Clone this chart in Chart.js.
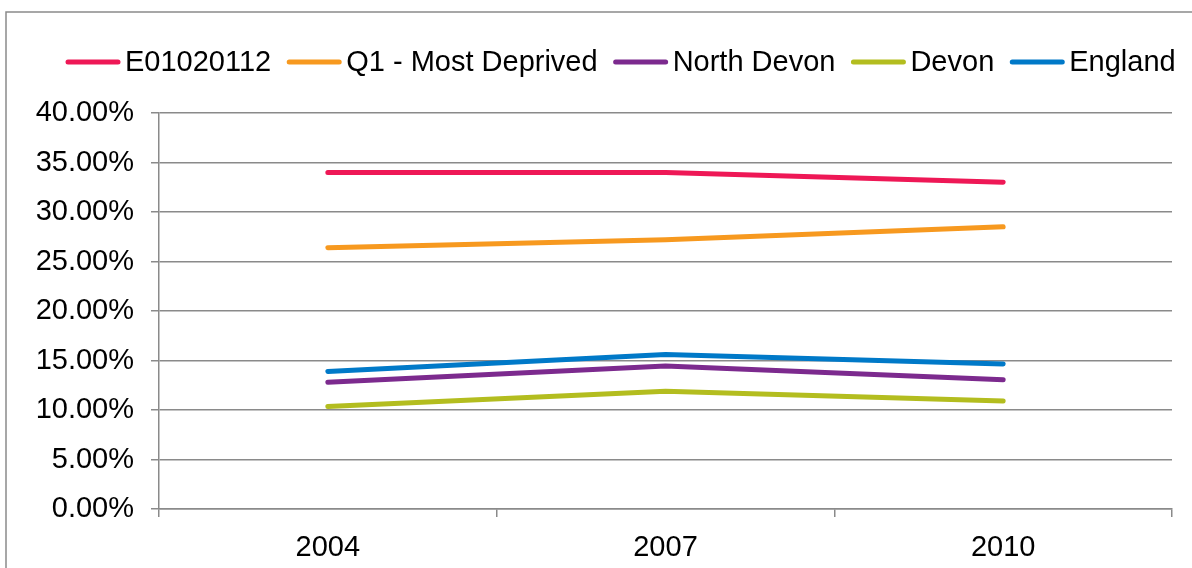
<!DOCTYPE html>
<html>
<head>
<meta charset="utf-8">
<script src="https://cdn.jsdelivr.net/npm/chart.js@4/dist/chart.umd.min.js"></script>
<style>
  html, body { margin: 0; padding: 0; background: #ffffff; }
  #wrap { position: relative; width: 1192px; height: 568px; overflow: hidden; }
  canvas { display: block; }
</style>
</head>
<body>
<div id="wrap"><canvas id="c" width="1192" height="568"></canvas></div>
<script>
// ---- Data ----
const years = ['2004', '2007', '2010'];
const seriesNames = ['E01020112', 'Q1 - Most Deprived', 'North Devon', 'Devon', 'England'];
const e01020112 = [34.0, 34.0, 33.0];
const q1MostDeprived = [26.4, 27.2, 28.5];
const northDevon = [12.8, 14.45, 13.05];
const devon = [10.35, 11.9, 10.9];
const england = [13.9, 15.6, 14.65];
const yTicks = [0, 5, 10, 15, 20, 25, 30, 35, 40];

const colors = ['#EE1856', '#F7991F', '#7C2A8E', '#B3BD1F', '#0079C8'];
const FONT = '"Liberation Sans", Arial, sans-serif';
const FS = 29;

const seriesValues = [e01020112, q1MostDeprived, northDevon, devon, england];

const datasets = seriesNames.map((name, i) => ({
  label: name,
  data: seriesValues[i],
  borderColor: colors[i],
  backgroundColor: colors[i],
  borderWidth: 5,
  pointRadius: 0,
  pointHoverRadius: 0,
  tension: 0,
  fill: false,
  borderCapStyle: 'round',
  borderJoinStyle: 'round'
}));

// frame + legend drawn on the chart canvas
const framePlugin = {
  id: 'frame',
  beforeDraw(chart) {
    const ctx = chart.ctx;
    ctx.save();
    ctx.fillStyle = '#ffffff';
    ctx.fillRect(0, 0, chart.width, chart.height);
    ctx.strokeStyle = '#8a8a8a';
    ctx.lineWidth = 1.5;
    ctx.strokeRect(6, 12, 1400, 800);
    ctx.restore();
  },
  afterDraw(chart) {
    const ctx = chart.ctx;
    ctx.save();
    ctx.font = FS + 'px ' + FONT;
    ctx.textBaseline = 'middle';
    ctx.textAlign = 'left';
    let x = 66;
    const y = 62;
    chart.data.datasets.forEach((ds) => {
      ctx.strokeStyle = ds.borderColor;
      ctx.lineWidth = 5;
      ctx.lineCap = 'round';
      ctx.beginPath();
      ctx.moveTo(x + 2, y);
      ctx.lineTo(x + 52, y);
      ctx.stroke();
      const tx = x + 59;
      ctx.fillStyle = '#000000';
      ctx.fillText(ds.label, tx, y + 1);
      x = tx + ctx.measureText(ds.label).width + 16;
    });
    ctx.restore();
  }
};

new Chart(document.getElementById('c'), {
  type: 'line',
  data: { labels: years, datasets },
  plugins: [framePlugin],
  options: {
    responsive: false,
    animation: false,
    devicePixelRatio: 1,
    layout: { padding: { top: 113, right: 20, left: 0, bottom: 0 } },
    plugins: { legend: { display: false }, tooltip: { enabled: false } },
    scales: {
      x: {
        type: 'category',
        offset: true,
        grid: {
          offset: true,
          drawOnChartArea: false,
          drawTicks: true,
          tickLength: 8,
          color: '#8a8a8a',
          lineWidth: 1.5
        },
        border: { display: true, color: '#8a8a8a', width: 1.5 },
        ticks: {
          color: '#000000',
          font: { family: FONT, size: FS },
          padding: 14,
          maxRotation: 0
        },
        afterFit(scale) { scale.height = 568 - 509; }
      },
      y: {
        min: 0,
        max: 40,
        afterBuildTicks(scale) { scale.ticks = yTicks.map(v => ({ value: v })); },
        grid: {
          color: '#8a8a8a',
          lineWidth: 1.5,
          tickLength: 8,
          drawTicks: true
        },
        border: { display: true, color: '#8a8a8a', width: 1.5 },
        ticks: {
          color: '#000000',
          font: { family: FONT, size: FS },
          padding: 17,
          callback: (v) => Number(v).toFixed(2) + '%'
        },
        afterFit(scale) { scale.width = 159; }
      }
    }
  }
});
</script>
</body>
</html>
